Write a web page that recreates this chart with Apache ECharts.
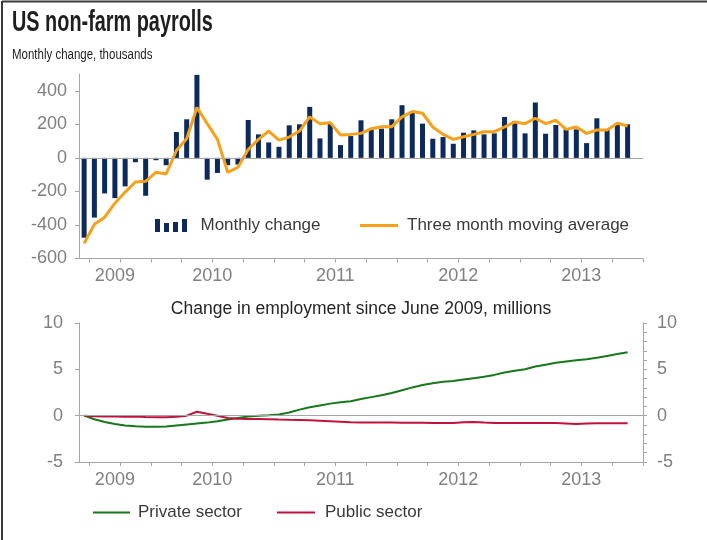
<!DOCTYPE html>
<html>
<head>
<meta charset="utf-8">
<script src="https://cdn.jsdelivr.net/npm/echarts@6/dist/echarts.min.js"></script>
<style>
  html, body { margin: 0; padding: 0; background: #ffffff; }
  #chart { width: 707px; height: 540px; }
</style>
</head>
<body>
<div id="chart"></div>
<script>
// Months from June 2009 to December 2013 (last month has no data yet)
const months = [
  '2009-06','2009-07','2009-08','2009-09','2009-10','2009-11','2009-12',
  '2010-01','2010-02','2010-03','2010-04','2010-05','2010-06','2010-07','2010-08','2010-09','2010-10','2010-11','2010-12',
  '2011-01','2011-02','2011-03','2011-04','2011-05','2011-06','2011-07','2011-08','2011-09','2011-10','2011-11','2011-12',
  '2012-01','2012-02','2012-03','2012-04','2012-05','2012-06','2012-07','2012-08','2012-09','2012-10','2012-11','2012-12',
  '2013-01','2013-02','2013-03','2013-04','2013-05','2013-06','2013-07','2013-08','2013-09','2013-10','2013-11','2013-12'
];

// Monthly change in non-farm payrolls, thousands
const payrolls = [
  -476, -356, -212, -240, -170, -26, -226, -14, -44, 154,
  230, 495, -130, -90, -44, -40, 226, 140, 92, 66,
  194, 200, 304, 116, 206, 76, 130, 224, 170, 174,
  230, 314, 274, 204, 114, 124, 84, 150, 164, 140,
  146, 244, 220, 146, 330, 144, 196, 170, 170, 88,
  236, 170, 196, 200
];

// Three month moving average, thousands
const movingAvg = [
  -510, -396, -354, -270, -204, -144, -140, -86, -96, 44,
  114, 300, 204, 110, -86, -56, 50, 110, 160, 106,
  124, 160, 244, 204, 210, 136, 140, 146, 174, 186,
  186, 244, 276, 266, 184, 140, 110, 126, 140, 156,
  156, 184, 214, 204, 236, 204, 224, 170, 184, 146,
  166, 166, 206, 190
];

// Change in employment since June 2009, millions
const privateSector = [
  0, -0.38, -0.68, -0.9, -1.05, -1.15, -1.2, -1.2, -1.18, -1.05,
  -0.95, -0.85, -0.75, -0.6, -0.42, -0.25, -0.1, 0.0, 0.05, 0.12,
  0.35, 0.65, 0.9, 1.1, 1.3, 1.45, 1.55, 1.8, 2.0, 2.2,
  2.45, 2.75, 3.05, 3.3, 3.5, 3.65, 3.75, 3.9, 4.05, 4.2,
  4.4, 4.65, 4.85, 5.0, 5.3, 5.5, 5.7, 5.85, 5.97, 6.08,
  6.25, 6.45, 6.65, 6.85
];
const publicSector = [
  0, -0.05, -0.1, -0.1, -0.12, -0.1, -0.15, -0.18, -0.18, -0.12,
  0.0, 0.42, 0.2, 0.0, -0.25, -0.32, -0.35, -0.36, -0.38, -0.42,
  -0.45, -0.47, -0.5, -0.55, -0.6, -0.65, -0.72, -0.75, -0.75, -0.75,
  -0.75, -0.76, -0.76, -0.77, -0.78, -0.8, -0.8, -0.72, -0.68, -0.75,
  -0.78, -0.78, -0.78, -0.78, -0.78, -0.78, -0.8, -0.85, -0.9, -0.85,
  -0.82, -0.82, -0.82, -0.82
];

// Year labels and the month each one is anchored to
const yearLabels = ['2009', '2010', '2011', '2012', '2013'];
const yearLabelMonths = ['2009-09', '2010-06', '2011-06', '2012-06', '2013-06'];

const FONT = '"Liberation Sans", Arial, Helvetica, sans-serif';
const AXIS_GREY = '#a6a6a6';
const LABEL_GREY = '#808080';
const TEXT_DARK = '#3a3a3a';

const chart = echarts.init(document.getElementById('chart'), null, { renderer: 'canvas' });

function monthAxis(gridIndex) {
  return {
    type: 'category',
    gridIndex: gridIndex,
    data: months,
    boundaryGap: true,
    axisLine: { show: true, onZero: false, lineStyle: { color: AXIS_GREY, width: 1 } },
    axisTick: {
      show: true,
      length: 4,
      interval: function (i) { return i % 3 === 1; },
      lineStyle: { color: AXIS_GREY }
    },
    axisLabel: {
      interval: function (i) { return yearLabelMonths.indexOf(months[i]) >= 0; },
      formatter: function (v) {
        const k = yearLabelMonths.indexOf(v);
        if (k < 0) return '';
        // full years sit between June and July, so nudge them half a month right
        return (k === 0 ? '{y|' : '{s|') + yearLabels[k] + '}';
      },
      margin: 9,
      rich: {
        y: { fontFamily: FONT, fontSize: 18, color: LABEL_GREY },
        s: { fontFamily: FONT, fontSize: 18, color: LABEL_GREY, padding: [0, 0, 0, 10] }
      }
    },
    splitLine: { show: false }
  };
}

function zeroLine() {
  return {
    silent: true,
    symbol: 'none',
    label: { show: false },
    lineStyle: { color: AXIS_GREY, width: 1, type: 'solid' },
    data: [{ yAxis: 0 }]
  };
}

function legendText(padLeft) {
  return { fontFamily: FONT, fontSize: 17, color: TEXT_DARK, padding: [0, 0, 0, padLeft] };
}

const option = {
  animation: false,
  backgroundColor: '#ffffff',
  textStyle: { fontFamily: FONT },
  grid: [
    { left: 79, right: 64, top: 74, height: 184.5 },
    { left: 79, right: 64, top: 323, height: 139 }
  ],
  xAxis: [monthAxis(0), monthAxis(1)],
  yAxis: [
    {
      type: 'value', gridIndex: 0, min: -600, max: 500, interval: 200,
      axisLine: { show: true, lineStyle: { color: AXIS_GREY } },
      axisTick: { show: true, length: 4, lineStyle: { color: AXIS_GREY } },
      axisLabel: { showMaxLabel: false, margin: 12, fontFamily: FONT, fontSize: 18, color: LABEL_GREY },
      splitLine: { show: false }
    },
    {
      type: 'value', gridIndex: 1, min: -5, max: 10, interval: 5,
      axisLine: { show: true, lineStyle: { color: AXIS_GREY } },
      axisTick: { show: true, length: 4, lineStyle: { color: AXIS_GREY } },
      axisLabel: { margin: 16, fontFamily: FONT, fontSize: 18, color: LABEL_GREY },
      splitLine: { show: false }
    },
    {
      type: 'value', gridIndex: 1, position: 'right', min: -5, max: 10, interval: 5,
      axisLine: { show: true, lineStyle: { color: AXIS_GREY } },
      axisTick: { show: true, length: 4, lineStyle: { color: AXIS_GREY } },
      minorTick: { show: true, splitNumber: 5, length: 4, lineStyle: { color: AXIS_GREY } },
      axisLabel: { margin: 14, fontFamily: FONT, fontSize: 18, color: LABEL_GREY },
      splitLine: { show: false }
    }
  ],
  legend: [
    {
      data: ['Monthly change'], left: 150, top: 212,
      itemWidth: 33, itemHeight: 13,
      icon: 'path://M0,0h5v13h-5z M9,4h5v9h-5z M18,3h5v10h-5z M27,0h5v13h-5z',
      textStyle: legendText(8)
    },
    {
      data: ['Three month moving average'], left: 355, top: 212,
      itemWidth: 38, itemHeight: 3, icon: 'rect',
      textStyle: legendText(4)
    },
    {
      data: ['Private sector'], left: 88, top: 499,
      itemWidth: 37, itemHeight: 2, icon: 'rect',
      textStyle: legendText(3)
    },
    {
      data: ['Public sector'], left: 272, top: 499,
      itemWidth: 38, itemHeight: 2, icon: 'rect',
      textStyle: legendText(5)
    }
  ],
  series: [
    {
      name: 'Monthly change', type: 'bar', xAxisIndex: 0, yAxisIndex: 0,
      data: payrolls, barWidth: 5,
      itemStyle: { color: '#0c2a5c' },
      markLine: zeroLine(),
      z: 2
    },
    {
      name: 'Three month moving average', type: 'line', xAxisIndex: 0, yAxisIndex: 0,
      data: movingAvg, symbol: 'none',
      lineStyle: { color: '#f7a11a', width: 3 },
      itemStyle: { color: '#f7a11a' },
      z: 3
    },
    {
      name: 'Private sector', type: 'line', xAxisIndex: 1, yAxisIndex: 1,
      data: privateSector, symbol: 'none',
      lineStyle: { color: '#17781a', width: 2 },
      itemStyle: { color: '#17781a' },
      markLine: zeroLine(),
      z: 3
    },
    {
      name: 'Public sector', type: 'line', xAxisIndex: 1, yAxisIndex: 1,
      data: publicSector, symbol: 'none',
      lineStyle: { color: '#c2123c', width: 2 },
      itemStyle: { color: '#c2123c' },
      z: 3
    }
  ],
  graphic: [
    // frame along the top and left edges
    { type: 'line', shape: { x1: 2, y1: 1.5, x2: 707, y2: 1.5 }, style: { stroke: '#3a3a3a', lineWidth: 2 } },
    { type: 'line', shape: { x1: 2, y1: 1, x2: 2, y2: 540 }, style: { stroke: '#3a3a3a', lineWidth: 2 } },
    {
      type: 'text', x: 12, y: 8, scaleX: 0.685,
      style: { text: 'US non-farm payrolls', font: 'bold 29px ' + FONT, fill: '#1e1e1e', verticalAlign: 'top' }
    },
    {
      type: 'text', x: 12, y: 48, scaleX: 0.82,
      style: { text: 'Monthly change, thousands', font: '14px ' + FONT, fill: '#1e1e1e', verticalAlign: 'top' }
    },
    {
      type: 'text', x: 361, y: 309,
      style: { text: 'Change in employment since June 2009, millions', font: '17.5px ' + FONT, fill: '#262626', align: 'center', verticalAlign: 'middle' }
    }
  ]
};

chart.setOption(option);
</script>
</body>
</html>
